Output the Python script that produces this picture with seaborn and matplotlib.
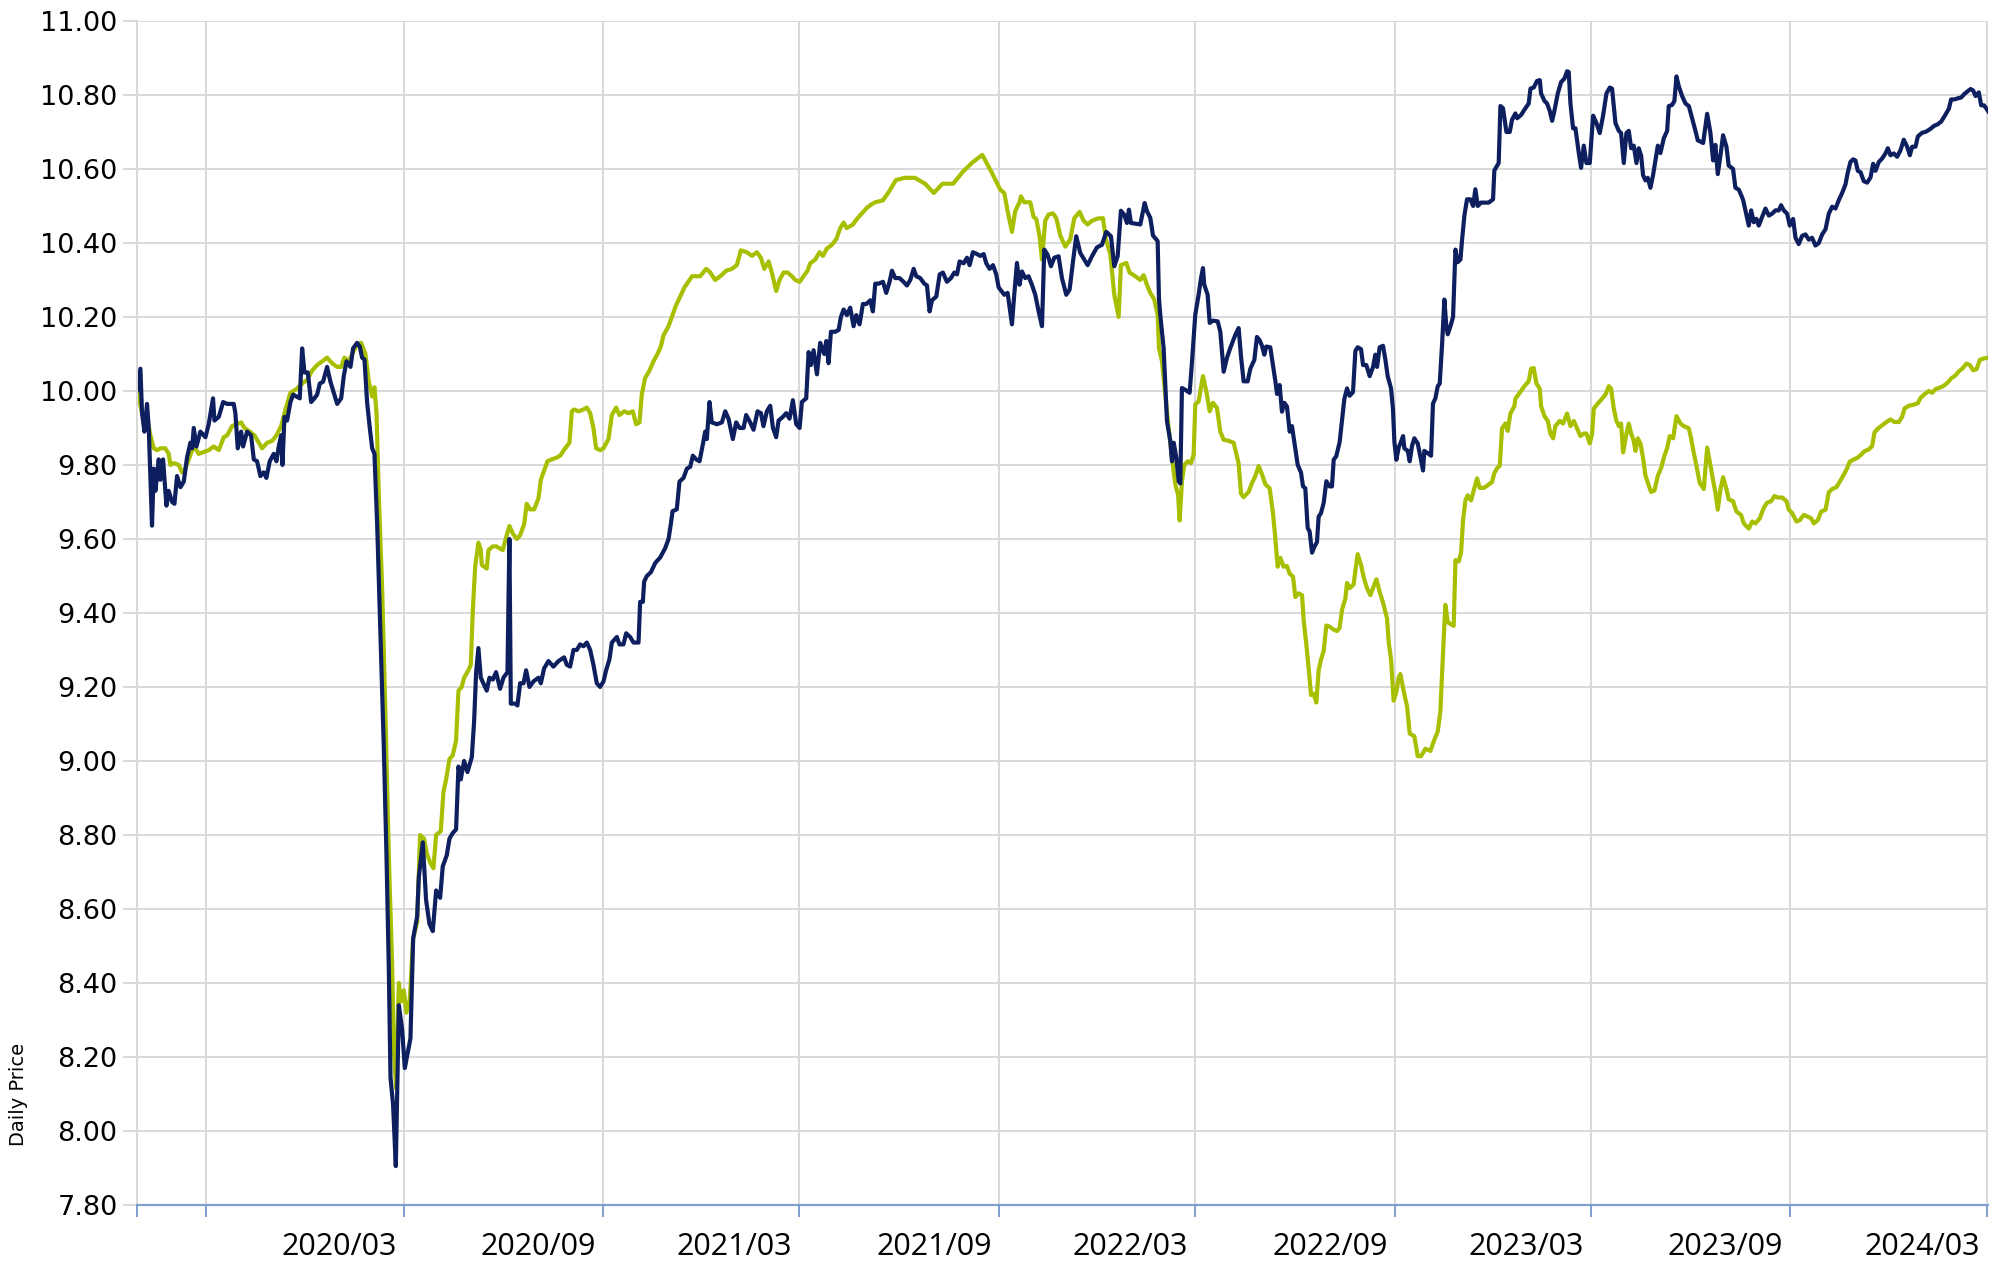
import pandas as pd
import seaborn as sns
import matplotlib.pyplot as plt
import matplotlib.dates as mdates
from matplotlib.transforms import ScaledTranslation

# all x values are days counted from START
START = pd.Timestamp('2019-06-29')
END = pd.Timestamp('2024-03-01 12:00')

# navy line
fund_days = [
    0.0, 3.1, 4.6, 6.8, 9.2, 10.8, 13.8, 15.4, 16.9, 20.0, 21.5, 24.0, 27.1, 29.2, 32.3, 34.5, 36.9, 40.0, 43.1, 46.1,
    49.2, 50.8, 52.3, 54.8, 58.4, 63.1, 66.1, 70.1, 71.4, 75.4, 79.4, 83.1, 86.1, 89.2, 90.7, 92.9, 96.0, 97.8, 101.5, 105.2,
    107.7, 110.7, 113.8, 116.9, 119.3, 122.4, 126.1, 128.6, 130.7, 132.9, 134.1, 136.0, 138.4, 141.5, 144.0, 147.0, 150.1, 152.3, 154.4, 157.5,
    160.6, 163.6, 166.1, 168.6, 171.6, 175.3, 178.4, 181.5, 184.6, 188.3, 190.7, 193.2, 196.9, 199.3, 203.0, 205.5, 207.6, 209.8, 212.2, 214.7,
    216.9, 219.0, 221.5, 224.5, 227.6, 230.1, 232.2, 233.8, 236.2, 238.7, 241.5, 244.5, 247.0, 252.2, 254.7, 258.4, 259.9,
    263.6, 266.6, 269.7, 272.8, 275.9, 279.6, 282.0, 285.7, 288.2, 291.2, 294.3, 296.5, 298.6, 301.7, 304.8, 308.8, 310.9, 312.8, 314.9, 317.1,
    319.5, 322.6, 325.1, 328.2, 331.2, 334.9, 338.0, 341.7, 343.5, 344.8, 348.8, 350.9, 353.4, 356.5, 358.9, 362.0, 365.7, 370.3, 372.5, 375.5,
    379.5, 384.1, 388.8, 394.0, 396.4, 399.5, 402.6, 405.7, 408.7, 411.8, 414.9, 418.0, 421.0, 424.1, 427.2, 430.3, 432.7, 435.8, 438.0, 442.6,
    445.0, 448.7, 451.2, 454.9, 458.0, 462.6, 464.1, 466.6, 467.8, 470.3, 474.0, 478.0, 482.6, 487.2, 490.3, 492.4, 494.0, 497.9, 500.4, 504.1,
    507.2, 510.3, 512.7, 515.8, 518.9, 521.9, 524.1, 525.6, 528.1, 530.2, 534.9,
    539.5, 542.6, 545.6, 549.6, 552.7, 555.8, 559.5, 561.9, 565.6, 568.7, 572.4, 575.5, 577.9, 581.0, 584.1, 586.6, 589.6, 591.8, 595.8, 598.9,
    601.9, 605.0, 608.1, 611.2, 613.3, 617.3, 619.5, 621.6, 624.1, 627.2, 630.2, 633.9, 635.8, 637.9, 640.1, 644.1, 647.2, 649.3, 651.8, 654.8,
    657.9, 661.0, 663.5, 666.5, 669.6, 672.7, 676.4, 678.8, 681.0, 684.1, 688.1, 691.1, 694.2, 696.4, 699.4, 703.4, 707.1, 710.2, 713.3, 716.4,
    718.8, 722.5, 726.2, 728.7, 731.1, 733.3, 737.3, 740.4, 743.4, 747.1, 750.8, 753.9, 756.4, 758.8, 762.5, 765.6, 768.0, 771.1, 774.8, 777.9,
    781.0, 783.4, 786.5, 789.6, 792.6, 794.8,
    800.0, 803.1, 807.1, 809.2, 811.7, 814.1, 816.3, 819.4, 822.4, 825.5, 828.6, 831.7, 834.8, 836.9, 840.0, 843.1, 846.1, 850.1, 853.2, 857.2,
    860.3, 863.4, 866.4, 870.1, 873.8, 876.9, 880.9, 885.5, 890.1, 894.1, 898.4, 901.5, 904.6, 907.6, 910.7, 913.2, 915.0, 916.9, 925.5, 928.0,
    929.5, 931.6, 934.7, 937.2, 941.5, 942.7, 943.9, 947.0, 950.1, 953.2, 954.7, 956.3, 958.7, 960.9, 962.4, 963.9, 967.0, 971.0, 973.2, 976.2,
    979.3, 981.5, 983.3, 984.5, 987.6, 989.5, 992.5, 996.9, 999.3, 1002.4, 1005.5, 1008.5, 1013.2, 1016.2,
    1018.4, 1020.8, 1024.5, 1027.0, 1030.7, 1033.1, 1035.6, 1037.7, 1039.9, 1041.7, 1045.4, 1047.9, 1050.1, 1051.6, 1054.0, 1056.2, 1058.3,
    1060.8, 1063.3, 1065.4, 1068.5, 1070.7, 1073.7, 1075.6, 1077.7, 1079.9, 1081.7, 1083.9, 1086.0, 1088.5, 1090.0, 1092.2, 1094.7, 1097.1,
    1100.2, 1102.3, 1103.9, 1106.3, 1109.4, 1111.6, 1113.7, 1116.2, 1118.6, 1121.7, 1123.9, 1126.0, 1129.1, 1131.0, 1134.0, 1137.1, 1140.2,
    1142.3, 1143.9, 1146.3, 1149.4, 1151.6, 1153.7, 1156.8, 1158.6, 1159.9, 1161.7, 1163.9,
    1165.4, 1167.9, 1169.1, 1172.2, 1174.0, 1176.2, 1178.3, 1181.4, 1183.2, 1186.3, 1187.5, 1190.6, 1193.7, 1195.5, 1197.7, 1199.9, 1201.7,
    1203.9, 1206.0, 1207.8, 1209.1, 1211.5, 1214.0, 1216.2, 1218.3, 1220.8, 1222.3, 1224.5, 1226.9, 1230.0, 1232.5, 1234.6, 1236.8, 1239.8,
    1243.8, 1246.9, 1250.9, 1252.1, 1256.1, 1257.7, 1260.1, 1263.2, 1266.3, 1268.4, 1271.5, 1273.1, 1276.8, 1279.8, 1283.8, 1285.4, 1288.4,
    1291.5, 1294.0, 1295.2, 1298.3, 1300.7, 1303.2, 1305.4, 1307.5, 1310.6, 1313.7, 1316.7, 1319.2, 1320.7, 1322.3, 1324.7, 1326.9, 1330.0,
    1332.1, 1334.6, 1337.0, 1340.1, 1343.2, 1346.3, 1349.3, 1352.4, 1355.5, 1358.6, 1360.7, 1363.8, 1366.9, 1369.0, 1371.5, 1373.9, 1376.1,
    1378.3, 1380.7, 1383.2, 1385.3, 1387.5, 1389.3, 1391.5, 1393.6, 1396.1, 1398.6, 1400.7, 1402.9, 1405.3, 1408.4, 1411.5, 1413.0, 1416.1,
    1418.2, 1420.1, 1422.2, 1425.3, 1428.4, 1431.5, 1434.5, 1437.6, 1439.8,
    1442.2, 1444.7, 1448.4, 1451.4, 1453.9, 1456.0, 1458.2, 1460.7, 1463.1, 1466.2, 1468.3, 1472.3, 1474.5, 1477.6, 1479.7, 1481.6, 1483.7,
    1486.8, 1489.0, 1491.4, 1493.9, 1496.0, 1499.1, 1502.2, 1505.3, 1508.3, 1511.4, 1514.5, 1516.6, 1519.1, 1522.2, 1524.6, 1527.7, 1529.9,
    1532.9, 1536.0, 1539.1, 1542.2, 1545.2, 1548.3, 1551.4, 1554.5, 1557.6, 1560.6, 1563.7, 1566.8, 1569.9, 1572.9, 1576.0, 1578.2, 1580.6,
    1583.1, 1585.2, 1587.4, 1589.9, 1592.9, 1596.0, 1599.1, 1601.5, 1603.7, 1606.8, 1609.8, 1612.9, 1615.1, 1617.5, 1620.6, 1623.7, 1626.8,
    1629.8, 1632.9, 1635.4, 1637.5, 1640.6, 1642.8, 1646.8, 1649.8, 1653.8, 1657.5, 1661.2, 1664.3, 1668.3, 1671.4, 1673.5, 1676.6, 1679.7,
    1682.7, 1685.8, 1688.3, 1691.4, 1693.8, 1696.0, 1699.0, 1701.2, 1703.7, 1706.1, 1708.3,
]
fund_price = [
    10.00, 10.06, 9.94, 9.89, 9.965, 9.90, 9.636, 9.79, 9.73, 9.815, 9.76, 9.815, 9.69, 9.73, 9.70, 9.695, 9.77, 9.74, 9.755, 9.82,
    9.86, 9.845, 9.90, 9.85, 9.89, 9.875, 9.91, 9.98, 9.92, 9.93, 9.97, 9.965, 9.965, 9.965, 9.94, 9.845, 9.89, 9.85, 9.89, 9.88,
    9.815, 9.81, 9.77, 9.78, 9.765, 9.81, 9.83, 9.81, 9.85, 9.88, 9.80, 9.93, 9.92, 9.97, 9.99, 9.985, 9.98, 10.115, 10.05, 10.05,
    9.97, 9.98, 9.99, 10.02, 10.025, 10.065, 10.025, 9.995, 9.965, 9.98, 10.04, 10.08, 10.065, 10.115, 10.13, 10.12, 10.09, 10.085, 9.97, 9.90,
    9.845, 9.83, 9.64, 9.34, 9.04, 8.745, 8.445, 8.145, 8.07, 7.905, 8.34, 8.275, 8.17, 8.25, 8.52, 8.58, 8.685,
    8.78, 8.625, 8.56, 8.54, 8.65, 8.63, 8.715, 8.745, 8.79, 8.805, 8.815, 8.985, 8.95, 9.00, 8.97, 9.01, 9.105, 9.24, 9.305, 9.225,
    9.21, 9.19, 9.225, 9.22, 9.24, 9.195, 9.225, 9.24, 9.60, 9.155, 9.155, 9.15, 9.21, 9.21, 9.245, 9.20, 9.215, 9.225, 9.21, 9.25,
    9.27, 9.255, 9.27, 9.28, 9.26, 9.255, 9.30, 9.30, 9.315, 9.31, 9.32, 9.30, 9.26, 9.21, 9.20, 9.215, 9.245, 9.275, 9.32, 9.335,
    9.315, 9.315, 9.345, 9.335, 9.32, 9.32, 9.43, 9.43, 9.485, 9.50, 9.51, 9.535, 9.55, 9.575, 9.60, 9.64, 9.675, 9.68, 9.755, 9.765,
    9.79, 9.795, 9.825, 9.815, 9.81, 9.855, 9.89, 9.87, 9.97, 9.915, 9.91,
    9.915, 9.945, 9.925, 9.87, 9.915, 9.90, 9.90, 9.935, 9.915, 9.895, 9.945, 9.94, 9.905, 9.945, 9.96, 9.90, 9.875, 9.92, 9.93, 9.94,
    9.925, 9.975, 9.91, 9.90, 9.97, 9.98, 10.105, 10.07, 10.11, 10.045, 10.13, 10.10, 10.135, 10.075, 10.16, 10.16, 10.165, 10.20, 10.22, 10.205,
    10.225, 10.175, 10.205, 10.18, 10.235, 10.235, 10.245, 10.215, 10.29, 10.29, 10.295, 10.265, 10.295, 10.325, 10.305, 10.305, 10.295, 10.285, 10.30, 10.33,
    10.31, 10.305, 10.29, 10.285, 10.215, 10.245, 10.255, 10.315, 10.32, 10.295, 10.305, 10.32, 10.315, 10.35, 10.345, 10.36, 10.34, 10.375, 10.37, 10.365,
    10.37, 10.345, 10.33, 10.34, 10.315, 10.28,
    10.26, 10.265, 10.18, 10.26, 10.346, 10.287, 10.323, 10.305, 10.31, 10.287, 10.26, 10.215, 10.175, 10.382, 10.368, 10.337, 10.36, 10.364, 10.305, 10.26,
    10.274, 10.35, 10.418, 10.373, 10.355, 10.34, 10.364, 10.388, 10.395, 10.43, 10.418, 10.337, 10.364, 10.487, 10.476, 10.454, 10.49, 10.454, 10.45, 10.486,
    10.508, 10.486, 10.468, 10.42, 10.405, 10.25, 10.206, 10.116, 9.918, 9.864, 9.81, 9.86, 9.82, 9.756, 9.75, 10.008, 10.003, 9.995, 10.08, 10.206,
    10.26, 10.305, 10.332, 10.287, 10.26, 10.184, 10.19, 10.188, 10.16, 10.052, 10.09, 10.116, 10.152, 10.17,
    10.093, 10.026, 10.026, 10.06, 10.084, 10.146, 10.137, 10.122, 10.098, 10.12, 10.118, 10.07, 10.026, 9.992, 10.016, 9.944, 9.968,
    9.958, 9.89, 9.905, 9.843, 9.80, 9.78, 9.742, 9.737, 9.63, 9.62, 9.563, 9.578, 9.592, 9.66, 9.67, 9.698, 9.756,
    9.742, 9.742, 9.814, 9.824, 9.862, 9.92, 9.978, 10.007, 9.987, 9.997, 10.108, 10.118, 10.113, 10.07, 10.07, 10.04, 10.065,
    10.098, 10.065, 10.118, 10.122, 10.084, 10.04, 10.007, 9.95, 9.862, 9.814, 9.848,
    9.858, 9.878, 9.845, 9.838, 9.81, 9.852, 9.872, 9.858, 9.832, 9.785, 9.838, 9.832, 9.825, 9.966, 9.98, 10.013, 10.02,
    10.127, 10.247, 10.174, 10.153, 10.174, 10.20, 10.382, 10.348, 10.355, 10.408, 10.475, 10.518, 10.518, 10.50, 10.545, 10.50, 10.509,
    10.509, 10.509, 10.518, 10.596, 10.616, 10.77, 10.764, 10.70, 10.70, 10.733, 10.75, 10.737, 10.746, 10.76, 10.777, 10.817, 10.82,
    10.838, 10.84, 10.804, 10.784, 10.777, 10.757, 10.73, 10.757, 10.804, 10.835, 10.844, 10.864, 10.862, 10.777, 10.71, 10.71, 10.643,
    10.603, 10.663, 10.616, 10.616, 10.744, 10.724, 10.697, 10.744, 10.804, 10.82, 10.817, 10.724, 10.703, 10.697, 10.616, 10.697, 10.703,
    10.656, 10.663, 10.616, 10.656, 10.636, 10.583, 10.569, 10.576, 10.549, 10.585, 10.623, 10.663, 10.643, 10.683, 10.703, 10.77, 10.773,
    10.784, 10.85, 10.824, 10.797, 10.777, 10.77, 10.737, 10.703, 10.677,
    10.674, 10.67, 10.749, 10.698, 10.623, 10.665, 10.586, 10.637, 10.691, 10.66, 10.609, 10.60, 10.549, 10.544, 10.53, 10.516, 10.488,
    10.447, 10.488, 10.456, 10.465, 10.447, 10.47, 10.493, 10.474, 10.479, 10.488, 10.488, 10.502, 10.488, 10.479, 10.447, 10.465, 10.414,
    10.397, 10.419, 10.423, 10.409, 10.414, 10.393, 10.40, 10.423, 10.437, 10.479, 10.498, 10.493, 10.516, 10.535, 10.558, 10.591, 10.619,
    10.626, 10.623, 10.595, 10.591, 10.567, 10.563, 10.577, 10.614, 10.595, 10.619, 10.628, 10.642, 10.656, 10.637, 10.642, 10.633, 10.651,
    10.679, 10.66, 10.637, 10.66, 10.66, 10.688, 10.698, 10.70, 10.707, 10.716, 10.721, 10.728, 10.747, 10.763, 10.788, 10.788, 10.791,
    10.793, 10.803, 10.809, 10.816, 10.812, 10.797, 10.807, 10.772, 10.772, 10.763, 10.753,
]

# lime green line
bench_days = [
    0.0, 4.6, 9.2, 12.3, 15.4, 18.5, 21.5, 26.1, 29.2, 30.8, 33.8, 38.5, 41.5, 44.6, 47.7, 50.8, 53.8, 56.9, 61.5, 66.1,
    70.7, 75.4, 80.0, 83.1, 87.7, 91.7, 96.0, 99.0, 104.0, 108.3, 112.3, 115.4, 120.0, 124.6, 128.6, 132.9, 136.9, 141.5, 147.0, 152.3,
    156.9, 161.5, 166.1, 170.7, 175.3, 179.9, 184.6, 188.3, 191.3, 195.3, 199.3, 203.0, 206.7, 210.7, 213.8, 216.9, 219.0, 220.9, 223.0, 226.1,
    229.2, 232.2, 235.3, 236.9, 239.0, 241.5, 243.6, 246.1, 248.5, 251.6, 254.7, 258.4,
    261.1, 264.8, 267.3, 270.4, 273.4, 275.9, 280.2, 282.6, 285.1, 288.2, 291.2, 294.3, 296.5, 299.5, 301.7, 305.7, 307.9, 309.7, 311.9, 314.9,
    317.1, 318.0, 322.6, 324.2, 328.2, 331.2, 334.3, 337.4, 340.5, 343.5, 346.6, 350.3, 353.4, 357.1, 359.5, 362.6, 366.3, 370.3, 372.5, 375.5,
    378.6, 382.6, 387.2, 390.3, 394.9, 398.9, 401.1, 403.2, 407.2, 411.8, 414.9, 418.0, 421.0, 423.5, 427.2, 430.3, 434.9, 438.0, 442.0, 445.0,
    449.4, 453.3, 457.3, 460.4, 463.5, 465.6, 468.7, 472.7, 476.4, 480.1, 483.2, 485.6, 490.3,
    497.0, 505.0, 512.0,
    519.5, 525.0, 528.8, 533.3, 538.0, 543.5, 548.7, 553.3, 557.0, 562.6, 567.2, 571.8, 575.5, 578.6, 582.6, 585.6, 589.6, 592.7, 596.4, 600.1,
    604.1, 607.2, 611.2, 614.9, 618.5, 621.0, 625.6, 629.6, 632.7, 636.4, 641.0, 645.0, 648.7, 651.8, 654.8, 660.4, 664.1, 668.7, 673.3, 677.9,
    681.0,
    688.0, 694.0, 700.0, 708.0, 717.6, 727.0, 735.0, 743.0, 752.8, 762.0, 770.4, 779.7, 788.0,
    796.3, 800.0, 803.1, 807.1, 810.1, 814.1, 815.4, 818.4, 824.0, 827.1, 829.5, 832.6, 834.8, 837.8, 840.9, 844.9, 848.0, 851.7, 856.3, 860.9,
    864.6, 869.5, 873.2, 876.9, 880.9, 886.1, 891.0, 894.1, 897.8, 901.5, 905.5, 907.6, 912.6, 915.6, 920.9, 925.5, 928.6, 931.6, 934.7, 938.4,
    941.5, 942.7, 945.5, 948.6, 951.6, 954.7, 957.8, 960.3, 961.8, 963.9, 966.1, 969.2, 972.2, 974.7, 976.2, 979.3, 983.3, 986.4, 989.5, 992.5,
    996.2, 999.3, 1002.4, 1006.1, 1011.6,
    1016.2, 1018.4, 1020.8, 1025.4, 1028.5, 1031.6, 1034.7, 1037.7, 1040.8, 1044.8, 1047.9, 1050.1, 1052.2, 1054.7, 1057.7, 1060.8, 1063.3,
    1066.4, 1068.5, 1071.6, 1074.7, 1076.2, 1078.7, 1080.8, 1083.0, 1085.4, 1087.9, 1090.0, 1092.2, 1094.7, 1097.1, 1100.2, 1103.3, 1107.0,
    1109.4, 1111.6, 1114.6, 1116.2, 1118.6, 1122.3, 1123.9, 1126.0, 1129.1, 1131.6, 1134.6, 1137.7, 1140.2, 1143.3, 1146.3, 1149.4, 1153.1,
    1154.6, 1156.8, 1159.2, 1161.7, 1163.9,
    1165.4, 1168.5, 1171.6, 1174.0, 1178.3, 1181.4, 1184.5, 1188.5, 1193.1, 1196.2, 1199.9, 1202.3, 1204.8, 1206.9, 1209.1, 1212.2, 1214.6,
    1216.2, 1219.2, 1221.4, 1223.2, 1225.4, 1227.5, 1230.6, 1233.7, 1236.2, 1238.6, 1242.3, 1246.0, 1250.0, 1252.1, 1254.6, 1257.1, 1259.2,
    1262.3, 1264.4, 1266.9, 1270.6, 1271.5, 1275.5, 1279.8, 1283.8, 1286.0, 1288.4, 1290.9, 1294.0, 1295.2, 1298.3, 1301.4, 1303.8, 1306.3,
    1308.4, 1312.4, 1315.5, 1319.2, 1322.3, 1325.4, 1328.4, 1331.5, 1334.6, 1337.0, 1340.1, 1342.3, 1343.8, 1347.5, 1351.5, 1354.6, 1357.7,
    1359.8, 1362.3, 1364.7, 1366.9, 1369.0, 1370.9, 1374.0, 1376.1, 1378.3, 1380.7, 1382.3, 1384.4, 1386.9, 1389.3, 1391.5, 1394.6, 1396.7,
    1399.8, 1402.9, 1405.9, 1409.0, 1411.5, 1413.9, 1417.0, 1420.1, 1423.8, 1426.9, 1431.5, 1433.6, 1436.1, 1438.5, 1441.6,
    1445.3, 1448.4, 1451.4, 1453.9, 1456.0, 1458.2, 1460.7, 1463.1, 1466.2, 1468.3, 1472.3, 1475.4, 1479.7, 1482.2, 1486.8, 1489.9, 1493.0,
    1497.0, 1500.6, 1503.7, 1507.4, 1510.5, 1513.6, 1517.6, 1521.6, 1523.7, 1526.8, 1530.8, 1533.9, 1537.6, 1541.2, 1544.3, 1546.8, 1550.5,
    1553.6, 1557.6, 1560.6, 1563.7, 1567.7, 1571.4, 1575.1, 1577.5, 1580.0, 1583.1, 1586.8, 1590.5, 1593.5, 1597.5, 1600.6, 1602.8, 1605.8,
    1609.8, 1613.8, 1617.5, 1621.2, 1625.2, 1628.3, 1630.5, 1634.5, 1639.1, 1642.8, 1645.2, 1648.9, 1652.9, 1656.0, 1659.1, 1663.1, 1666.7,
    1670.4, 1673.5, 1677.5, 1680.6, 1683.7, 1687.7, 1690.7, 1693.8, 1696.9, 1700.0, 1703.7, 1707.3,
]
bench_price = [
    10.01, 9.94, 9.93, 9.88, 9.845, 9.84, 9.845, 9.845, 9.83, 9.80, 9.805, 9.80, 9.78, 9.79, 9.815, 9.84, 9.845, 9.83, 9.835, 9.84,
    9.85, 9.84, 9.875, 9.88, 9.905, 9.91, 9.915, 9.90, 9.89, 9.88, 9.86, 9.845, 9.86, 9.865, 9.88, 9.905, 9.95, 9.995, 10.005, 10.02,
    10.03, 10.055, 10.07, 10.08, 10.09, 10.075, 10.065, 10.065, 10.09, 10.08, 10.105, 10.125, 10.13, 10.10, 10.025, 9.985, 10.01, 9.94, 9.72, 9.465,
    9.12, 8.745, 8.45, 8.22, 8.115, 8.40, 8.35, 8.38, 8.32, 8.355, 8.52, 8.565,
    8.80, 8.79, 8.75, 8.725, 8.71, 8.80, 8.81, 8.915, 8.95, 9.005, 9.015, 9.055, 9.19, 9.20, 9.225, 9.245, 9.26, 9.405, 9.525, 9.59,
    9.57, 9.53, 9.52, 9.57, 9.58, 9.58, 9.575, 9.57, 9.605, 9.635, 9.615, 9.60, 9.61, 9.64, 9.695, 9.68, 9.68, 9.71, 9.76, 9.785,
    9.81, 9.815, 9.82, 9.825, 9.845, 9.86, 9.945, 9.95, 9.945, 9.95, 9.955, 9.94, 9.90, 9.845, 9.84, 9.845, 9.87, 9.935, 9.955, 9.935,
    9.945, 9.94, 9.945, 9.91, 9.915, 9.99, 10.035, 10.055, 10.08, 10.10, 10.12, 10.15, 10.175,
    10.23, 10.28, 10.31,
    10.31, 10.33, 10.32, 10.30, 10.31, 10.325, 10.33, 10.34, 10.38, 10.375, 10.365, 10.375, 10.36, 10.33, 10.35, 10.32, 10.27, 10.30, 10.32, 10.32,
    10.31, 10.30, 10.295, 10.31, 10.325, 10.345, 10.355, 10.375, 10.365, 10.385, 10.395, 10.41, 10.44, 10.455, 10.44, 10.45, 10.465, 10.48, 10.495, 10.505,
    10.51,
    10.515, 10.54, 10.57, 10.576, 10.576, 10.56, 10.535, 10.56, 10.56, 10.593, 10.617, 10.638, 10.593,
    10.544, 10.535, 10.486, 10.43, 10.486, 10.51, 10.526, 10.51, 10.51, 10.47, 10.465, 10.418, 10.355, 10.46, 10.477, 10.48, 10.467, 10.42, 10.39, 10.41,
    10.467, 10.484, 10.46, 10.45, 10.46, 10.466, 10.467, 10.405, 10.37, 10.26, 10.20, 10.34, 10.346, 10.32, 10.31, 10.30, 10.313, 10.287, 10.265, 10.247,
    10.206, 10.116, 10.08, 9.99, 9.90, 9.82, 9.747, 9.72, 9.65, 9.756, 9.80, 9.81, 9.805, 9.828, 9.963, 9.972, 10.04, 9.999, 9.945, 9.968,
    9.954, 9.89, 9.868, 9.866, 9.86,
    9.804, 9.722, 9.713, 9.727, 9.751, 9.77, 9.797, 9.775, 9.748, 9.737, 9.67, 9.60, 9.525, 9.549, 9.525, 9.527, 9.506,
    9.498, 9.443, 9.453, 9.448, 9.38, 9.313, 9.25, 9.178, 9.182, 9.158, 9.245, 9.274, 9.298, 9.366, 9.363, 9.356, 9.351,
    9.36, 9.409, 9.438, 9.481, 9.467, 9.477, 9.515, 9.559, 9.53, 9.496, 9.467, 9.448, 9.467, 9.491, 9.457, 9.428, 9.385,
    9.322, 9.274, 9.163, 9.187, 9.226,
    9.235, 9.188, 9.147, 9.074, 9.067, 9.013, 9.013, 9.033, 9.027, 9.053, 9.08, 9.134, 9.295, 9.422, 9.375, 9.369, 9.365,
    9.543, 9.539, 9.563, 9.65, 9.704, 9.718, 9.704, 9.738, 9.764, 9.738, 9.738, 9.745, 9.754, 9.778, 9.791, 9.798, 9.899,
    9.912, 9.892, 9.939, 9.959, 9.979, 9.995, 10.013, 10.026, 10.06, 10.062, 10.02, 10.006, 9.959, 9.932, 9.919, 9.885, 9.872,
    9.905, 9.919, 9.912, 9.939, 9.905, 9.919, 9.899, 9.878, 9.885, 9.885, 9.858, 9.885, 9.952, 9.966, 9.979, 9.99, 10.013,
    10.006, 9.952, 9.919, 9.905, 9.912, 9.834, 9.885, 9.912, 9.885, 9.865, 9.838, 9.872, 9.858, 9.818, 9.771, 9.744, 9.727,
    9.731, 9.771, 9.791, 9.825, 9.845, 9.878, 9.872, 9.932, 9.912, 9.905, 9.899, 9.872, 9.832, 9.798, 9.751,
    9.735, 9.847, 9.80, 9.758, 9.726, 9.679, 9.735, 9.767, 9.735, 9.707, 9.702, 9.674, 9.665, 9.642, 9.628, 9.647, 9.642,
    9.656, 9.684, 9.698, 9.702, 9.716, 9.712, 9.712, 9.702, 9.679, 9.67, 9.647, 9.651, 9.665, 9.66, 9.656, 9.642, 9.651,
    9.674, 9.679, 9.726, 9.735, 9.74, 9.758, 9.777, 9.791, 9.809, 9.814, 9.819, 9.828, 9.837, 9.842, 9.851, 9.888, 9.898,
    9.907, 9.916, 9.923, 9.916, 9.916, 9.93, 9.953, 9.96, 9.963, 9.967, 9.981, 9.991, 10.00, 9.995, 10.005, 10.009, 10.014,
    10.023, 10.034, 10.042, 10.053, 10.06, 10.074, 10.07, 10.056, 10.059, 10.084, 10.088, 10.09,
]

tick_dates = ['2019-06-29', '2019-09-01', '2020-03-01', '2020-09-01', '2021-03-01', '2021-09-01',
              '2022-03-01', '2022-09-01', '2023-03-01', '2023-09-01', '2024-03-01']
tick_labels = ['', '', '2020/03', '2020/09', '2021/03', '2021/09',
               '2022/03', '2022/09', '2023/03', '2023/09', '2024/03']
y_ticks = [7.8, 8.0, 8.2, 8.4, 8.6, 8.8, 9.0, 9.2, 9.4, 9.6, 9.8, 10.0, 10.2, 10.4, 10.6, 10.8, 11.0]

NAVY = '#0d1f5e'
LIME = '#a8bf00'
GRID = '#d9d9d9'
AXIS_BLUE = '#7f9fcf'

sns.set_theme(style='whitegrid', rc={'grid.color': GRID, 'grid.linewidth': 1.4})
plt.rcParams['font.family'] = ['DejaVu Sans']

# build one long table, benchmark first so the navy line sits on top
frames = []
for name, days, price in [('Benchmark', bench_days, bench_price), ('Fund', fund_days, fund_price)]:
    part = pd.DataFrame({'day': days, 'price': price})
    part['date'] = START + pd.to_timedelta(part['day'], unit='D')
    part['series'] = name
    frames.append(part)
df = pd.concat(frames, ignore_index=True)

fig = plt.figure(figsize=(19.92, 12.62), dpi=100)
ax = fig.add_axes([0.0688, 0.0452, 0.9292, 0.9382])

sns.lineplot(data=df, x='date', y='price', hue='series', hue_order=['Benchmark', 'Fund'],
             palette=[LIME, NAVY], estimator=None, sort=False, linewidth=3.0,
             legend=False, ax=ax)

# axes limits and ticks
ax.set_xlim(mdates.date2num(START), mdates.date2num(END))
ax.set_ylim(7.8, 11.0)
ax.set_yticks(y_ticks)
ax.set_yticklabels([f'{v:.2f}' for v in y_ticks], fontsize=19.5, color='black')
ax.set_xticks(mdates.date2num(pd.to_datetime(tick_dates)))
ax.set_xticklabels(tick_labels, fontsize=22, fontfamily='Open Sans', color='black')

ax.grid(True, color=GRID, linewidth=1.4)
ax.tick_params(axis='y', left=True, length=10, width=1.4, color=GRID, pad=4)
ax.tick_params(axis='x', bottom=True, length=8.6, width=1.4, color=AXIS_BLUE, pad=11)

# labels sit to the left of their gridline
shift = ScaledTranslation(-7 / 100, 0, fig.dpi_scale_trans)
for lbl in ax.get_xticklabels():
    lbl.set_horizontalalignment('right')
    lbl.set_transform(lbl.get_transform() + shift)

for side in ['top', 'right']:
    ax.spines[side].set_visible(False)
ax.spines['left'].set_color(GRID)
ax.spines['left'].set_linewidth(1.4)
ax.spines['bottom'].set_color(AXIS_BLUE)
ax.spines['bottom'].set_linewidth(1.6)

ax.set_xlabel('')
ax.set_ylabel('Daily Price', fontsize=14, loc='bottom', color='black')
ax.yaxis.set_label_coords(-0.0589, 0.0498)

fig.savefig('out.png', dpi=100)
